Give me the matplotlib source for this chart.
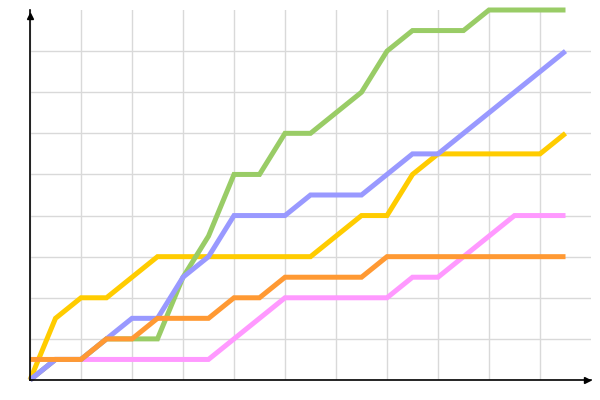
import matplotlib
matplotlib.use("Agg")
import matplotlib.pyplot as plt

# ── Data (22 points) ─────────────────────────────────────────────
steps = list(range(22))
yellow = [0, 1.5, 2, 2, 2.5, 3, 3, 3, 3, 3, 3, 3, 3.5, 4, 4, 5, 5.5, 5.5, 5.5, 5.5, 5.5, 6]
green = [0, 0.5, 0.5, 1, 1, 1, 2.5, 3.5, 5, 5, 6, 6, 6.5, 7, 8, 8.5, 8.5, 8.5, 9, 9, 9, 9]
blue = [0, 0.5, 0.5, 1, 1.5, 1.5, 2.5, 3, 4, 4, 4, 4.5, 4.5, 4.5, 5, 5.5, 5.5, 6, 6.5, 7, 7.5, 8]
pink = [0, 0.5, 0.5, 0.5, 0.5, 0.5, 0.5, 0.5, 1, 1.5, 2, 2, 2, 2, 2, 2.5, 2.5, 3, 3.5, 4, 4, 4]
orange = [0.5, 0.5, 0.5, 1, 1, 1.5, 1.5, 1.5, 2, 2, 2.5, 2.5, 2.5, 2.5, 3, 3, 3, 3, 3, 3, 3, 3]

# drawn bottom to top
series = [
    (yellow, "#ffcc00"),
    (pink, "#ff99ff"),
    (green, "#99cc66"),
    (blue, "#9999ff"),
    (orange, "#ff9933"),
]

# ── Plot ──────────────────────────────────────────────────────────
fig = plt.figure(figsize=(6, 4), dpi=100)
ax = fig.add_axes([0.05, 0.05, 0.935, 0.925])

for vals, color in series:
    ax.plot(steps, vals, color=color, linewidth=3.6, solid_capstyle="butt",
            solid_joinstyle="miter", clip_on=False, zorder=3)

ax.set_xlim(0, 22)
ax.set_ylim(0, 9)
ax.set_xticks(range(0, 21, 2))
ax.set_yticks(range(0, 9))
ax.grid(True, color="#d9d9d9", linewidth=1)
ax.tick_params(length=0, labelbottom=False, labelleft=False)

for side in ["top", "right"]:
    ax.spines[side].set_visible(False)
for side in ["left", "bottom"]:
    ax.spines[side].set_color("black")
    ax.spines[side].set_linewidth(1.2)
    ax.spines[side].set_zorder(4)

# arrow heads on the axes
ax.plot(21.85, 0, marker=">", color="black", markersize=5, clip_on=False, zorder=5)
ax.plot(0, 8.85, marker="^", color="black", markersize=5, clip_on=False, zorder=5)

plt.savefig("out.png", dpi=100)
